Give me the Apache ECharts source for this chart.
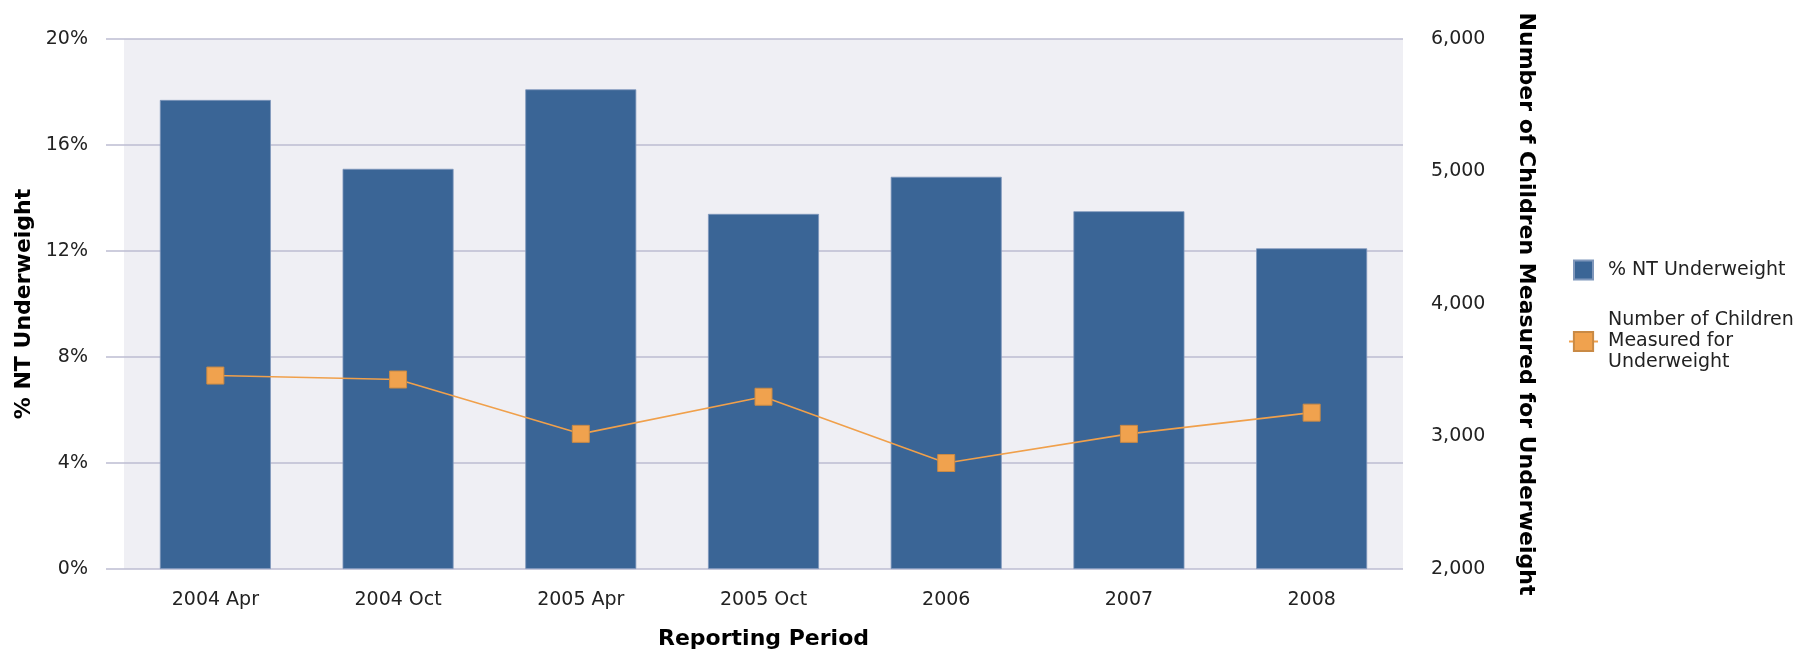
<!DOCTYPE html>
<html>
<head>
<meta charset="utf-8">
<script src="https://cdn.jsdelivr.net/npm/echarts@6/dist/echarts.min.js"></script>
<style>
  html, body { margin: 0; padding: 0; background: #ffffff; }
  #chart { width: 1815px; height: 655px; }
</style>
</head>
<body>
<div id="chart"></div>
<script>
const categories = ['2004 Apr', '2004 Oct', '2005 Apr', '2005 Oct', '2006', '2007', '2008'];
const pctUnderweight = [17.7, 15.1, 18.1, 13.4, 14.8, 13.5, 12.1];
const childrenMeasured = [3460, 3430, 3020, 3300, 2800, 3020, 3180];
const leftTicks = { min: 0, max: 20, interval: 4 };
const rightTicks = { min: 2000, max: 6000, interval: 1000 };
const seriesNames = ['% NT Underweight', 'Number of Children\nMeasured for\nUnderweight'];
const axisNames = { x: 'Reporting Period', left: '% NT Underweight', right: 'Number of Children Measured for Underweight' };

const FONT = 'DejaVu Sans';
const gridColor = '#BDBDD2';

const chart = echarts.init(document.getElementById('chart'), null, { renderer: 'canvas' });
chart.setOption({
  animation: false,
  backgroundColor: '#ffffff',
  grid: {
    left: 124, right: 412, top: 39, bottom: 86,
    show: true, backgroundColor: '#EFEFF4', borderWidth: 0,
    containLabel: false
  },
  legend: {
    orient: 'vertical',
    left: 1563,
    top: 252,
    itemWidth: 29,
    itemHeight: 24,
    itemGap: 27,
    textStyle: { fontFamily: FONT, fontSize: 19, color: '#222', lineHeight: 21, padding: [0, 0, 0, 5] },
    data: [
      { name: seriesNames[0], icon: 'path://M0,0M24,24M2.5,2.5L21.5,2.5L21.5,21.5L2.5,21.5Z' },
      { name: seriesNames[1] }
    ]
  },
  xAxis: {
    type: 'category',
    data: categories,
    axisLine: { show: false },
    axisTick: { show: false },
    axisLabel: { fontFamily: FONT, fontSize: 19, color: '#222', margin: 22 },
    name: axisNames.x,
    nameLocation: 'middle',
    nameGap: 59,
    nameTextStyle: { fontFamily: FONT, fontSize: 22, fontWeight: 'bold', color: '#000' }
  },
  yAxis: [
    {
      type: 'value',
      position: 'left',
      min: leftTicks.min, max: leftTicks.max, interval: leftTicks.interval,
      axisLine: { show: false },
      axisTick: { show: true, length: 18, lineStyle: { color: gridColor, width: 1.5 } },
      splitLine: { show: true, lineStyle: { color: gridColor, width: 1.5 } },
      axisLabel: { fontFamily: FONT, fontSize: 19, color: '#222', margin: 36, formatter: '{value}%' },
      name: axisNames.left,
      nameLocation: 'middle',
      nameGap: 78,
      nameTextStyle: { fontFamily: FONT, fontSize: 22, fontWeight: 'bold', color: '#000' }
    },
    {
      type: 'value',
      position: 'right',
      min: rightTicks.min, max: rightTicks.max, interval: rightTicks.interval,
      axisLine: { show: false },
      axisTick: { show: false },
      splitLine: { show: false },
      axisLabel: {
        fontFamily: FONT, fontSize: 19, color: '#222', margin: 28,
        formatter: v => v.toLocaleString('en-US')
      },
      name: axisNames.right,
      nameLocation: 'middle',
      nameRotate: -90,
      nameGap: 112,
      nameTextStyle: { fontFamily: FONT, fontSize: 22, fontWeight: 'bold', color: '#000' }
    }
  ],
  series: [
    {
      name: seriesNames[0],
      type: 'bar',
      yAxisIndex: 0,
      data: pctUnderweight,
      barWidth: 111,
      itemStyle: { color: '#3A6596', borderColor: '#7f97bb', borderWidth: 0.8 }
    },
    {
      name: seriesNames[1],
      type: 'line',
      yAxisIndex: 1,
      data: childrenMeasured,
      symbol: 'rect',
      symbolSize: 17,
      lineStyle: { color: '#F0A04B', width: 1.6 },
      itemStyle: { color: '#F0A24E', borderColor: '#C98A45', borderWidth: 1 },
      z: 5
    }
  ]
});
</script>
</body>
</html>
